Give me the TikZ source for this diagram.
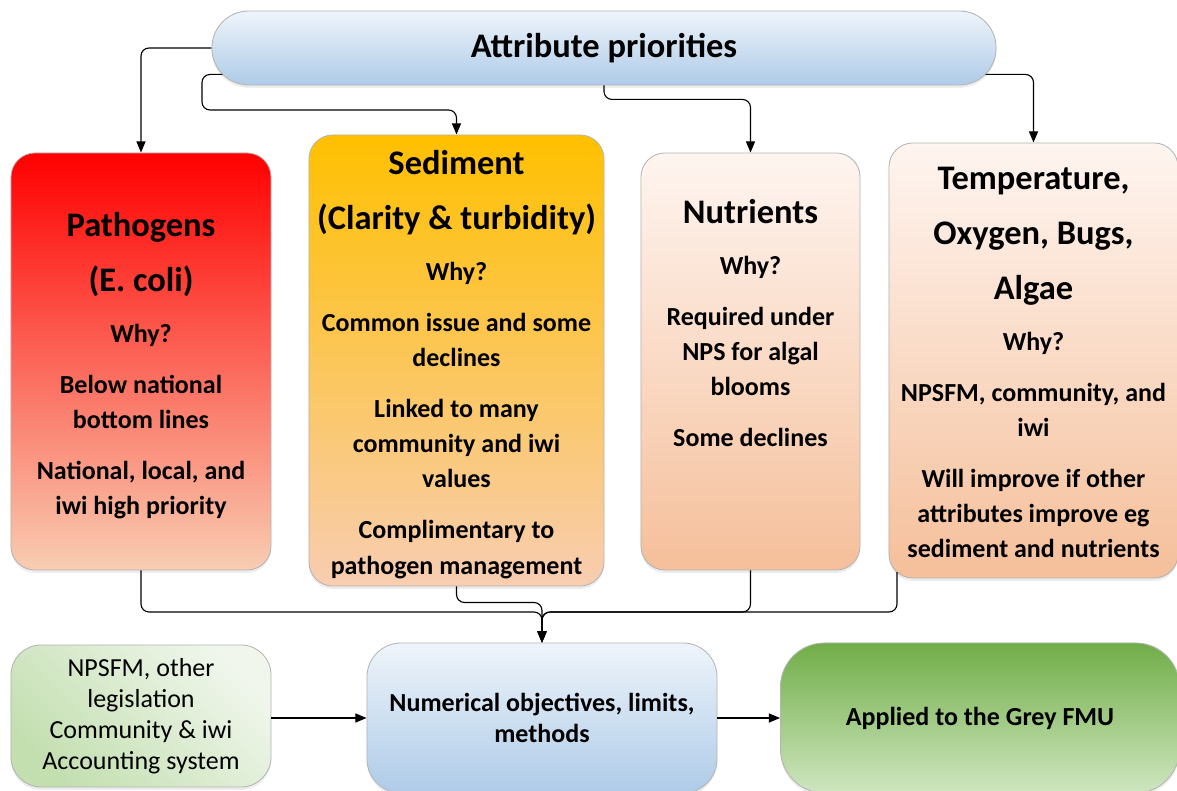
\documentclass[tikz,border=0pt]{standalone}
\usepackage{fontspec}
\setmainfont{Carlito}
\usetikzlibrary{arrows.meta,shadows}

\definecolor{skytop}{HTML}{EEF4FA}
\definecolor{skybot}{HTML}{AECBE8}
\definecolor{redtop}{HTML}{FF0000}
\definecolor{peach}{HTML}{F8CDB2}
\definecolor{ambertop}{HTML}{FFC000}
\definecolor{peachtop}{HTML}{FEF5F0}
\definecolor{peachbot}{HTML}{F5BF9A}
\definecolor{leaflight}{HTML}{F0F6EC}
\definecolor{leafdark}{HTML}{C3DFB0}
\definecolor{grasstop}{HTML}{70AD47}
\definecolor{grassbot}{HTML}{CFE6C0}
\definecolor{rim}{HTML}{B4B4B4}

\newcommand{\titlefont}{\fontsize{24.5}{25}\selectfont\bfseries}
\newcommand{\bodyfont}{\fontsize{18.5}{25}\selectfont\bfseries}

\tikzset{
  box/.style={draw=rim, line width=0.6pt, inner sep=0pt,
    drop shadow={opacity=0.15, shadow xshift=0pt, shadow yshift=-2pt}},
  conn/.style={draw, line width=0.8pt, rounded corners=0.2cm,
    -{Triangle[length=8pt,width=6.5pt]}},
  txt/.style={align=center, inner sep=0pt, anchor=north, font=\bodyfont}
}

\begin{document}
\begin{tikzpicture}[x=0.025cm, y=-0.025cm]
    \useasboundingbox (0,0) rectangle (1177,790);

    % Top banner
    \node[box, top color=skytop, bottom color=skybot, minimum width=19.6cm,
      minimum height=1.85cm, rounded corners=0.92cm] (attr) at (604,48)
      {\fontsize{24.5}{30}\selectfont\bfseries Attribute priorities};

    % Attribute boxes
    \node[box, top color=redtop, bottom color=peach, minimum width=6.5cm,
      minimum height=10.425cm, rounded corners=0.6cm] (path) at (141,361.5) {};
    \node[box, top color=ambertop, bottom color=peach, minimum width=7.375cm,
      minimum height=11.275cm, rounded corners=0.6cm] (sed) at (456.5,360.5) {};
    \node[box, top color=peachtop, bottom color=peachbot, minimum width=5.475cm,
      minimum height=10.425cm, rounded corners=0.6cm] (nut) at (750.5,361.5) {};
    \node[box, top color=peachtop, bottom color=peachbot, minimum width=7.225cm,
      minimum height=10.875cm, rounded corners=0.6cm] (temp) at (1033.5,360.5) {};

    % Box texts
    \node[txt] (pathtxt) at (141,212) {\titlefont Pathogens\\[14pt]\titlefont (E. coli)\\[11.3pt]
      Why?\\[11.3pt]Below national\\bottom lines\\[11.3pt]National, local, and\\iwi high priority};
    \node[txt] (sedtxt) at (456.5,150) {\titlefont Sediment\\[14pt]\titlefont (Clarity \& turbidity)\\[11.3pt]
      Why?\\[11.3pt]Common issue and some\\declines\\[11.3pt]Linked to many\\community and iwi\\values\\[11.3pt]Complimentary to\\pathogen management};
    \node[txt] (nuttxt) at (750.5,199) {\titlefont Nutrients\\[11.3pt]
      Why?\\[11.3pt]Required under\\NPS for algal\\blooms\\[11.3pt]Some declines};
    \node[txt] (temptxt) at (1033.5,167) {\titlefont Temperature,\\[14pt]\titlefont Oxygen, Bugs,\\[14pt]\titlefont Algae\\[11.3pt]
      Why?\\[11.3pt]NPSFM, community, and\\iwi\\[11.3pt]Will improve if other\\attributes improve eg\\sediment and nutrients};

    % Bottom row
    \node[box, top color=leafdark, bottom color=leaflight, shading angle=135,
      minimum width=6.5cm, minimum height=3.55cm, rounded corners=0.75cm, align=center,
      font=\fontsize{18.5}{22}\selectfont] (nps) at (141,716)
      {NPSFM, other\\legislation\\Community \& iwi\\Accounting system};
    \node[box, top color=skytop, bottom color=skybot, minimum width=8.75cm,
      minimum height=3.75cm, rounded corners=0.85cm, align=center,
      font=\fontsize{18.5}{22}\selectfont\bfseries] (num) at (542,718)
      {Numerical objectives, limits,\\methods};
    \node[box, top color=grasstop, bottom color=grassbot, minimum width=9.975cm,
      minimum height=3.75cm, rounded corners=1.1cm,
      font=\fontsize{18.5}{22}\selectfont\bfseries] (app) at (980,718)
      {Applied to the Grey FMU};

    % Connectors from the banner
    \coordinate (a1) at ([shift={(11,-11)}]attr.south west);
    \coordinate (a2) at ([shift={(-11,-11)}]attr.south east);
    \draw[conn] (attr.west) -| (path.north);
    \draw[conn] (a1) -| (202,110) -| (sed.north);
    \draw[conn] (attr.south) -- ++(0,14) -| (nut.north);
    \draw[conn] (a2) -| (temp.north);

    % Connectors into the objectives
    \coordinate (join) at (542,612);
    \coordinate (tempfoot) at (897,572);
    \draw[conn] (path.south) |- (join) -- (num.north);
    \draw[conn] (sed.south) -- ++(0,16) -| (num.north);
    \draw[conn] (nut.south) |- (join) -- (num.north);
    \draw[conn] (tempfoot) |- (join) -- (num.north);
    \draw[conn] (nps.east |- num.west) -- (num.west);
    \draw[conn] (num.east) -- (app.west);
\end{tikzpicture}
\end{document}
